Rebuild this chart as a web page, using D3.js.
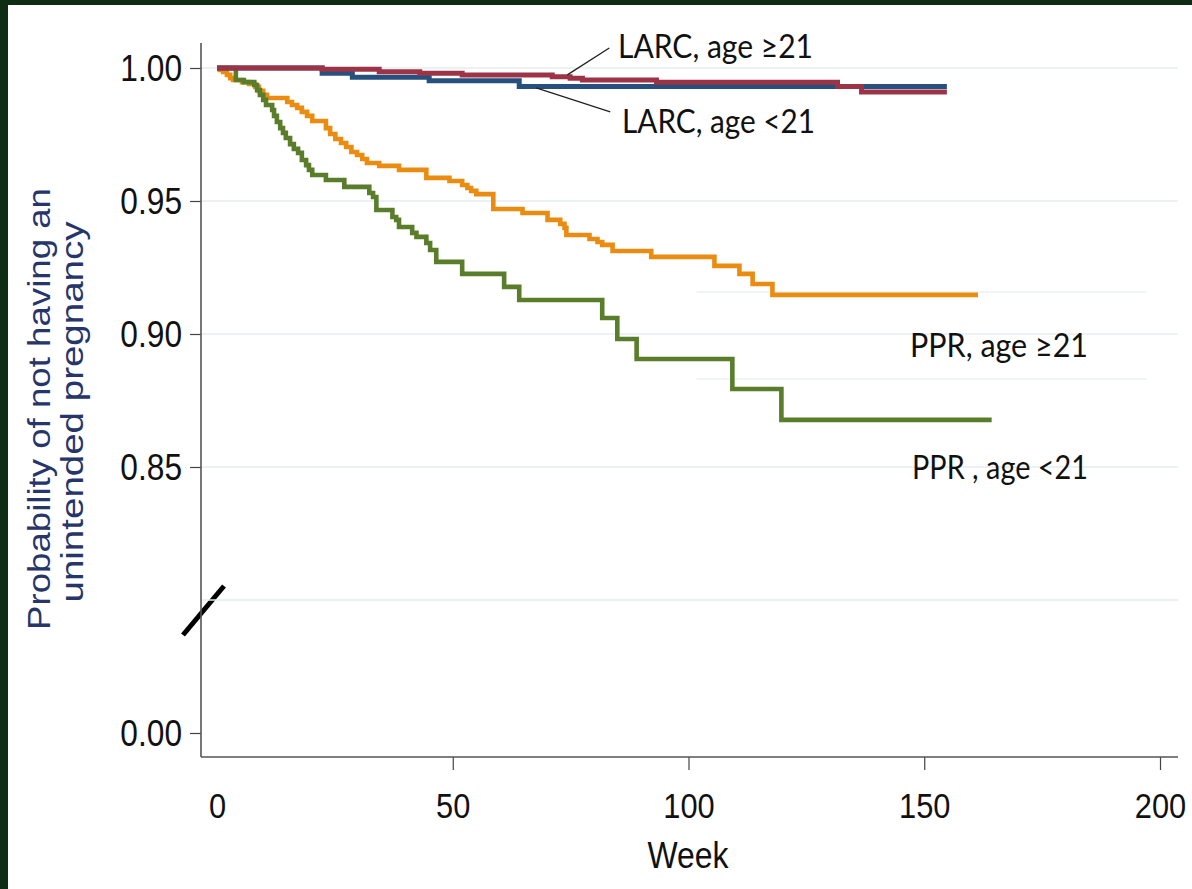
<!DOCTYPE html>
<html><head><meta charset="utf-8">
<script src="https://cdn.jsdelivr.net/npm/d3@7"></script>
<style>body{margin:0;background:#0f2c14;} svg{display:block}</style>
</head><body>
<svg id="c" width="1192" height="889"></svg>
<script>
// ---- Data (Kaplan-Meier step estimates) ----
const seriesNames = ["PPR, age ≥21", "PPR , age <21", "LARC, age <21", "LARC, age ≥21"];
const seriesColors = ["#eb8c12", "#5a7d2b", "#27507f", "#9b3447"];

const weeksPprOld = [0,0.6,1.3,2.1,2.8,3.4,5.3,6.8,8.1,8.9,9.8,10.6,14.9,15.9,17.0,18.0,19.1,20.2,23.1,24.0,25.1,26.3,27.4,28.5,29.7,30.8,31.8,34.4,38.6,44.4,49.3,52.0,53.1,53.9,55.0,58.6,64.8,70.1,72.8,73.7,74.1,79.0,80.7,81.7,83.9,92.1,105.5,110.8,113.6,117.8,161.4];
const survPprOld  = [1.0,0.9993,0.9985,0.9974,0.9962,0.9955,0.9947,0.9940,0.9929,0.9914,0.9899,0.9887,0.9872,0.9861,0.9850,0.9835,0.9820,0.9801,0.9774,0.9752,0.9733,0.9718,0.9703,0.9684,0.9673,0.9658,0.9643,0.9632,0.9617,0.9587,0.9575,0.9560,0.9549,0.9538,0.9526,0.9470,0.9455,0.9429,0.9414,0.9399,0.9372,0.9357,0.9346,0.9335,0.9312,0.9290,0.9256,0.9226,0.9188,0.9147,0.9147];

const weeksPprYoung = [0,4.0,5.7,7.9,8.5,9.1,9.8,10.4,11.7,12.1,12.7,13.4,14.0,14.6,15.5,16.3,17.2,18.0,18.9,19.5,20.2,23.1,27.0,32.3,33.1,33.8,37.2,38.0,38.6,41.4,42.3,44.4,45.2,46.5,52.0,60.9,64.1,81.7,84.9,89.0,109.3,119.7,164.3];
const survPprYoung  = [1.0,0.9955,0.9947,0.9936,0.9917,0.9899,0.9880,0.9861,0.9842,0.9820,0.9797,0.9774,0.9756,0.9737,0.9714,0.9696,0.9681,0.9654,0.9635,0.9617,0.9598,0.9579,0.9553,0.9530,0.9515,0.9466,0.9440,0.9429,0.9402,0.9380,0.9365,0.9342,0.9316,0.9271,0.9226,0.9177,0.9128,0.9060,0.8981,0.8906,0.8793,0.8677,0.8677];

const weeksLarcYoung = [0,22.3,28.7,45.0,64.1,154.8];
const survLarcYoung  = [1.0,0.9980,0.9965,0.9952,0.9930,0.9930];

const weeksLarcOld = [0,22.3,34.4,43.0,52.0,71.1,74.9,77.5,93.2,131.6,136.7,154.8];
const survLarcOld  = [1.0,0.9995,0.9986,0.9980,0.9974,0.9967,0.9961,0.9955,0.9946,0.9930,0.9910,0.9910];

const xTickValues = [0,50,100,150,200];
const yTickValues = [0,0.85,0.90,0.95,1.00];
const yTickLabels = ["0.00","0.85","0.90","0.95","1.00"];
const gridValues = [0.80,0.85,0.90,0.95,1.00];
const faintRefValues = [0.9158,0.8831];

// ---- Layout ----
const svg = d3.select("#c");
const x = d3.scaleLinear().domain([0,200]).range([217,1160]);
const y = d3.scaleLinear().domain([0,0.80,1.00]).range([733,600,68]); // broken axis
const axisLeftX = 201, axisBottomY = 757, axisTopY = 43, axisRightX = 1178;
const sans = "'Liberation Sans', Arial, sans-serif";
const labelFont = "Lato, 'Open Sans', sans-serif";

svg.append("rect").attr("x",8).attr("y",5).attr("width",1184).attr("height",884).attr("fill","#ffffff");

// break mark (drawn under gridlines)
svg.append("line").attr("x1",183).attr("y1",635).attr("x2",224).attr("y2",586)
  .attr("stroke","#000").attr("stroke-width",5);

// gridlines
svg.append("g").selectAll("line").data(gridValues).join("line")
  .attr("x1",axisLeftX).attr("x2",axisRightX)
  .attr("y1",d=>y(d)).attr("y2",d=>y(d))
  .attr("stroke","#e6edf0").attr("stroke-width",1.6);
svg.append("g").selectAll("line").data(faintRefValues).join("line")
  .attr("x1",x(101.7)).attr("x2",x(197.2))
  .attr("y1",d=>y(d)).attr("y2",d=>y(d))
  .attr("stroke","#edf1f3").attr("stroke-width",1.4);

// axes
const yAxis = d3.axisLeft(y).tickValues(yTickValues).tickSize(11).tickPadding(8)
  .tickFormat((d,i)=>yTickLabels[i]);
const gy = svg.append("g").attr("transform",`translate(${axisLeftX},0)`).call(yAxis);
gy.select(".domain").remove();
gy.selectAll(".tick line").attr("stroke","#444").attr("stroke-width",1.2);
gy.selectAll(".tick text").attr("font-family",sans).attr("font-size",36).attr("fill","#111").attr("dy","0.35em");

const xAxis = d3.axisBottom(x).tickValues(xTickValues).tickSize(13).tickFormat(d3.format("d"));
const gx = svg.append("g").attr("transform",`translate(0,${axisBottomY})`).call(xAxis);
gx.select(".domain").remove();
gx.selectAll(".tick line").attr("stroke","#444").attr("stroke-width",1.2).attr("opacity",(d)=>d===0?0:1);
gx.selectAll(".tick text").attr("font-family",sans).attr("font-size",35).attr("fill","#111")
  .attr("y",61).attr("dy",0);

svg.append("line").attr("x1",axisLeftX).attr("x2",axisLeftX).attr("y1",axisTopY).attr("y2",axisBottomY)
  .attr("stroke","#555").attr("stroke-width",1.6);
svg.append("line").attr("x1",axisLeftX).attr("x2",axisRightX).attr("y1",axisBottomY).attr("y2",axisBottomY)
  .attr("stroke","#555").attr("stroke-width",1.6);

// compress axis text horizontally
svg.selectAll(".tick text").each(function(){
  const w = this.getComputedTextLength();
  d3.select(this).attr("textLength", w*0.88).attr("lengthAdjust","spacingAndGlyphs");
});

// axis titles
svg.append("text").attr("x",688).attr("y",868).attr("text-anchor","middle")
  .attr("font-family",sans).attr("font-size",36).attr("fill","#111")
  .attr("textLength",81).attr("lengthAdjust","spacingAndGlyphs").text("Week");

const yTitle = svg.append("g").attr("transform","translate(0,409) rotate(-90)");
yTitle.append("text").attr("x",0).attr("y",50).attr("text-anchor","middle")
  .attr("font-family",sans).attr("font-size",31).attr("fill","#27366a")
  .attr("textLength",442).attr("lengthAdjust","spacingAndGlyphs").text("Probability of not having an");
yTitle.append("text").attr("x",-3).attr("y",83).attr("text-anchor","middle")
  .attr("font-family",sans).attr("font-size",31).attr("fill","#27366a")
  .attr("textLength",381).attr("lengthAdjust","spacingAndGlyphs").text("unintended pregnancy");

// survival curves
const seriesWeeks = [weeksPprOld, weeksPprYoung, weeksLarcYoung, weeksLarcOld];
const seriesSurv = [survPprOld, survPprYoung, survLarcYoung, survLarcOld];
const line = d3.line().x(d=>x(d[0])).y(d=>y(d[1])).curve(d3.curveStepAfter);
seriesWeeks.forEach((wk,i)=>{
  const pts = wk.map((w,j)=>[w, seriesSurv[i][j]]);
  svg.append("path").datum(pts).attr("d",line).attr("fill","none")
    .attr("stroke",seriesColors[i]).attr("stroke-width",i>=2?5:4.6)
    .attr("stroke-linejoin","miter");
});

// annotations
const leaders = [
  {from:[74.3,0.9974], to:[83.2,1.0075]},
  {from:[67.7,0.9925], to:[83.4,0.9835]}
];
svg.append("g").selectAll("line").data(leaders).join("line")
  .attr("x1",d=>x(d.from[0])).attr("y1",d=>y(d.from[1]))
  .attr("x2",d=>x(d.to[0])).attr("y2",d=>y(d.to[1]))
  .attr("stroke","#222").attr("stroke-width",1.3);

const labelPos = [
  {name:seriesNames[3], x:618, y:58, w:195},
  {name:seriesNames[2], x:622, y:133, w:193},
  {name:seriesNames[0], x:910, y:357, w:178},
  {name:seriesNames[1], x:912, y:479, w:176}
];
svg.append("g").selectAll("text").data(labelPos).join("text")
  .attr("x",d=>d.x).attr("y",d=>d.y)
  .attr("font-family",labelFont).attr("font-size",32).attr("fill","#111")
  .attr("textLength",d=>d.w).attr("lengthAdjust","spacingAndGlyphs")
  .text(d=>d.name);
</script>
</body></html>
